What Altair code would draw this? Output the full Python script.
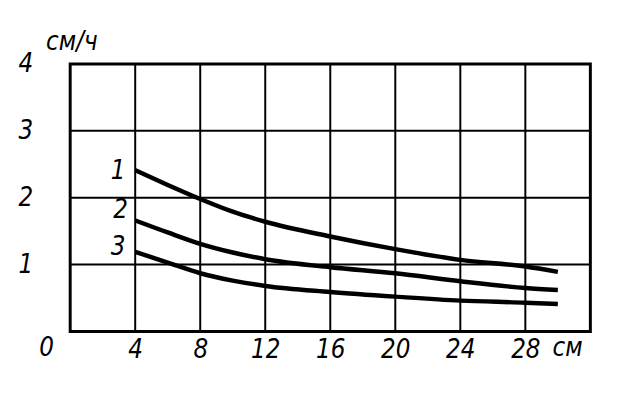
import altair as alt
import pandas as pd

# distances (cm)
x_vals = [4, 6, 8, 10, 12, 16, 20, 24, 28, 30]
curve1 = [2.41, 2.19, 1.98, 1.79, 1.64, 1.42, 1.23, 1.07, 0.97, 0.89]
curve2 = [1.66, 1.48, 1.31, 1.18, 1.08, 0.96, 0.87, 0.75, 0.65, 0.62]
curve3 = [1.19, 1.03, 0.87, 0.76, 0.68, 0.59, 0.52, 0.46, 0.43, 0.41]

x_ticks = [4, 8, 12, 16, 20, 24, 28]
y_ticks = [1, 2, 3, 4]
v_grid = [4, 8, 12, 16, 20, 24, 28]
h_grid = [1, 2, 3]

curve_names = ["1", "2", "3"]
curve_label_x = [2.95, 3.1, 2.95]
curve_label_y = [2.40, 1.82, 1.26]

extra_text = ["0", "см", "см/ч"]
extra_x = [-1.45, 30.6, 0.1]
extra_y = [-0.25, -0.25, 4.32]

rows = []
for name, ys in zip(curve_names, [curve1, curve2, curve3]):
    for xv, yv in zip(x_vals, ys):
        rows.append({"x": xv, "y": yv, "curve": name})
df = pd.DataFrame(rows)

FONT = "DejaVu Sans Condensed, DejaVu Sans"
xs = alt.Scale(domain=[0, 32], nice=False)
ys_ = alt.Scale(domain=[0, 4], nice=False)

vgrid = alt.Chart(pd.DataFrame({"x": v_grid})).mark_rule(color="black", strokeWidth=2).encode(
    x=alt.X("x:Q", scale=xs)
)
hgrid = alt.Chart(pd.DataFrame({"y": h_grid})).mark_rule(color="black", strokeWidth=2).encode(
    y=alt.Y("y:Q", scale=ys_)
)

lines = alt.Chart(df).mark_line(color="black", strokeWidth=4.5, interpolate="monotone").encode(
    x=alt.X("x:Q", scale=xs,
            axis=alt.Axis(values=x_ticks, grid=False, ticks=False, domain=False,
                          labelFont=FONT, labelFontSize=26, labelFontStyle="italic",
                          labelColor="black", labelPadding=5, title=None, format="d")),
    y=alt.Y("y:Q", scale=ys_,
            axis=alt.Axis(values=y_ticks, grid=False, ticks=False, domain=False,
                          labelFont=FONT, labelFontSize=26, labelFontStyle="italic",
                          labelColor="black", labelPadding=38, title=None, format="d")),
    detail="curve:N",
)

labels = alt.Chart(pd.DataFrame({"t": curve_names, "x": curve_label_x, "y": curve_label_y})).mark_text(
    font=FONT, fontSize=26, fontStyle="italic", color="black", align="center", baseline="middle"
).encode(x=alt.X("x:Q", scale=xs), y=alt.Y("y:Q", scale=ys_), text="t:N")

extra = alt.Chart(pd.DataFrame({"t": extra_text, "x": extra_x, "y": extra_y})).mark_text(
    font=FONT, fontSize=26, fontStyle="italic", color="black", align="center", baseline="middle"
).encode(x=alt.X("x:Q", scale=xs), y=alt.Y("y:Q", scale=ys_), text="t:N")

chart = alt.layer(vgrid, hgrid, lines, labels, extra).properties(
    width=527, height=271,
    autosize=alt.AutoSizeParams(type="none"),
    padding={"left": 63, "top": 54, "right": 28, "bottom": 80},
    background="white",
).configure_view(stroke="black", strokeWidth=3)

chart.save("out.html", embed_options={"renderer": "svg", "actions": False})
